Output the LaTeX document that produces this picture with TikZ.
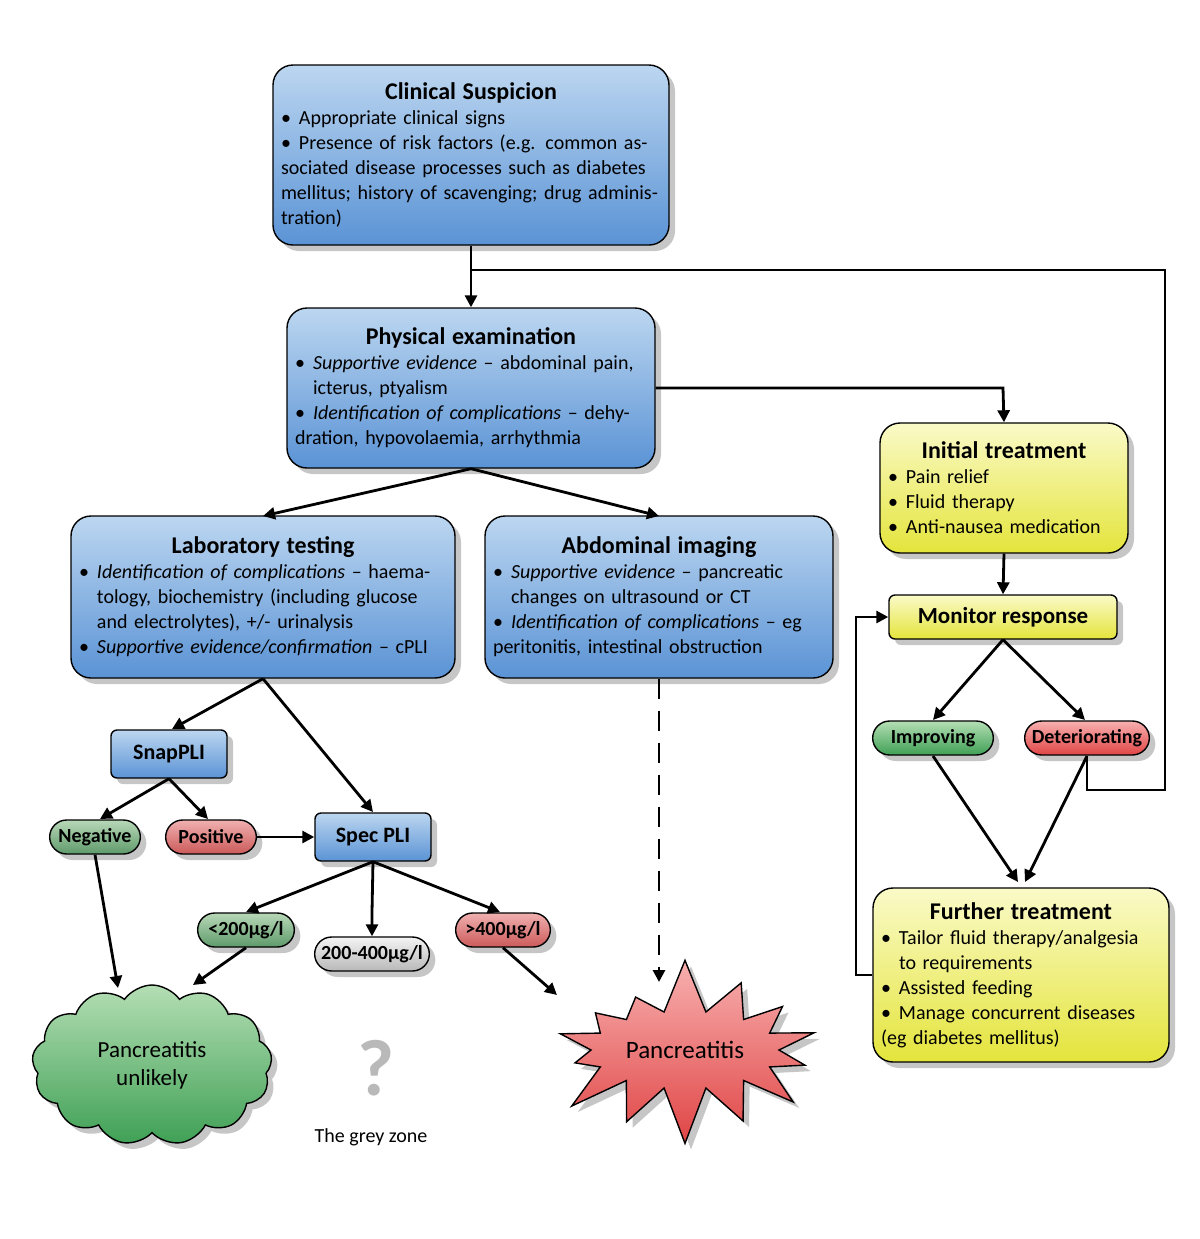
\documentclass[tikz,border=0pt]{standalone}
\usepackage{fontspec}
\setmainfont{Carlito}
\usetikzlibrary{arrows.meta,shadows,shapes.symbols,shapes.misc}
\definecolor{b1}{HTML}{BCD6F0}\definecolor{b2}{HTML}{5A93D5}
\definecolor{y1}{HTML}{FAFAC8}\definecolor{y2}{HTML}{E4E43C}
\definecolor{g1}{HTML}{B4DEB4}\definecolor{g2}{HTML}{3FA055}
\definecolor{ng1}{HTML}{B8D8B8}\definecolor{ng2}{HTML}{5E9A6A}
\definecolor{r1}{HTML}{F8B0B0}\definecolor{r2}{HTML}{E04545}
\definecolor{pr1}{HTML}{F0B0B0}\definecolor{pr2}{HTML}{CC5A5A}
\definecolor{gr1}{HTML}{F4F4F4}\definecolor{gr2}{HTML}{B8B8B8}
\newcommand\bitem[1]{\par\hangindent=0.9em\hangafter=1\noindent\makebox[0.9em][l]{\textbullet}#1}
\newcommand\ttl[1]{{\centering\fontsize{12}{14}\selectfont\bfseries #1\par}}
\begin{document}
\begin{tikzpicture}[x=0.5pt,y=-0.5pt,
 shd/.style={drop shadow={opacity=0.45,shadow xshift=3pt,shadow yshift=-3pt}},
 box/.style={draw=black,line width=0.7pt,rounded corners=10pt,shd,align=left,inner sep=4pt,
   font=\fontsize{10}{12.5}\selectfont},
 blue/.style={box,top color=b1,bottom color=b2},
 yel/.style={box,top color=y1,bottom color=y2},
 sbox/.style={draw=black,line width=0.7pt,rounded corners=3pt,shd,top color=b1,bottom color=b2,
   font=\fontsize{11}{13}\selectfont\bfseries,minimum height=24pt},
 pill/.style={draw=black,line width=0.7pt,rounded rectangle,shd,minimum height=17pt,inner ysep=1pt,
   font=\fontsize{10}{12}\selectfont\bfseries},
 ln/.style={line width=1.4pt},
 ar/.style={ln,-{Triangle[length=6pt,width=6pt]}}]
\useasboundingbox (0,0) rectangle (1200,1239);

\node[blue,text width=190pt,minimum height=90pt] (cs) at (471,155) {\ttl{Clinical Suspicion}
\bitem{Appropriate clinical signs}
\bitem{Presence of risk factors (e.g. common associated disease processes such as diabetes mellitus; history of scavenging; drug administration)}};

\node[blue,text width=176pt,minimum height=80pt] (pe) at (471,388) {\ttl{Physical examination}
\bitem{\textit{Supportive evidence} -- abdominal pain, icterus, ptyalism}
\bitem{\textit{Identification of complications} -- dehydration, hypovolaemia, arrhythmia}};

\node[blue,text width=184pt,minimum height=81pt] (lab) at (263,597) {\ttl{Laboratory testing}
\bitem{\textit{Identification of complications} -- haematology, biochemistry (including glucose and electrolytes), +/- urinalysis}
\bitem{\textit{Supportive evidence/confirmation} -- cPLI}};

\node[blue,text width=166pt,minimum height=81pt] (img) at (659,597) {\ttl{Abdominal imaging}
\bitem{\textit{Supportive evidence} -- pancreatic changes on ultrasound or CT}
\bitem{\textit{Identification of complications} -- eg peritonitis, intestinal obstruction}};

\node[yel,text width=116pt,minimum height=65pt] (it) at (1004,488) {\ttl{Initial treatment}
\bitem{Pain relief}\bitem{Fluid therapy}\bitem{Anti-nausea medication}};

\node[draw=black,line width=0.7pt,rounded corners=3pt,shd,top color=y1,bottom color=y2,
  font=\fontsize{11.5}{13}\selectfont\bfseries,minimum width=114pt,minimum height=22pt] (mr) at (1003,617) {Monitor response};

\node[yel,text width=140pt,minimum height=87pt] (ft) at (1021,975) {\ttl{Further treatment}
\bitem{Tailor fluid therapy/analgesia to requirements}
\bitem{Assisted feeding}
\bitem{Manage concurrent diseases (eg diabetes mellitus)}};

\node[pill,top color=g1,bottom color=g2,minimum width=67pt] (imp) at (933,738) {Improving};
\node[pill,top color=r1,bottom color=r2,minimum width=69pt] (det) at (1087,738) {Deteriorating};

\node[sbox,minimum width=58pt] (snap) at (169,754) {SnapPLI};
\node[sbox,minimum width=58pt] (spec) at (373,837) {Spec PLI};
\node[pill,top color=ng1,bottom color=ng2,minimum width=52pt] (neg) at (95,837) {Negative};
\node[pill,top color=pr1,bottom color=pr2,minimum width=52pt] (pos) at (211,837) {Positive};
\node[pill,top color=ng1,bottom color=ng2,minimum width=55pt] (lo) at (246,930) {<200µg/l};
\node[pill,top color=gr1,bottom color=gr2,minimum width=64pt] (mid) at (372,954) {200-400µg/l};
\node[pill,top color=pr1,bottom color=pr2,minimum width=54pt] (hi) at (503,930) {>400µg/l};

\node[cloud,cloud puffs=13,cloud puff arc=110,aspect=1.5,draw=black,line width=0.7pt,shd,
  top color=g1,bottom color=g2,minimum width=120pt,minimum height=80pt,align=center,
  font=\fontsize{11.5}{14}\selectfont] (cl) at (152,1065) {Pancreatitis\\unlikely};
\node[starburst,starburst points=14,starburst point height=28pt,random starburst=7,draw=black,line width=0.7pt,shd,
  top color=r1,bottom color=r2,minimum width=150pt,minimum height=95pt,
  font=\fontsize{12.5}{14}\selectfont] (pan) at (685,1050) {Pancreatitis};

\node[font=\fontsize{40}{40}\selectfont\bfseries,text=gray!55] (q) at (376,1068) {?};
\node[font=\fontsize{10}{12}\selectfont] (gz) at (371,1137) {The grey zone};

% connectors
\draw[ar] (cs.south) -- (pe.north);
\coordinate (j) at (471,270);
\draw[ln] (det.south) -- (1087,790) -- (1165,790) -- (1165,270) -- (j);
\draw[ar] (pe.east) -- (1003,388) -- (it.north);
\draw[ar] (pe.south) -- (263,516);
\draw[ar] (pe.south) -- (659,516);
\draw[ar] (it.south) -- (mr.north);
\draw[ar] (mr.south) -- (933,720);
\draw[ar] (mr.south) -- (1085,720);
\draw[ar] (933,756) -- (1018,882);
\draw[ar] (1087,756) -- (1025,882);
\draw[ar] (ft.west) -- (856,975) -- (856,617) -- (mr.west);
\draw[ar] (lab.south) -- (172,729);
\draw[ar] (lab.south) -- (373,812);
\draw[ar] (snap.south) -- (100,819);
\draw[ar] (snap.south) -- (208,819);
\draw[ar] (pos.east) -- (spec.west);
\draw[ar] (spec.south) -- (246,912);
\draw[ar] (spec.south) -- (lo.north -| mid) -- (mid.north);
\draw[ar] (spec.south) -- (500,912);
\draw[ar] (neg.south) -- (118,988);
\draw[ar] (lo.south) -- (193,985);
\draw[ar] (hi.south) -- (557,995);
\draw[ar,dash pattern=on 10pt off 6pt] (img.south) -- (659,982);
\end{tikzpicture}
\end{document}
